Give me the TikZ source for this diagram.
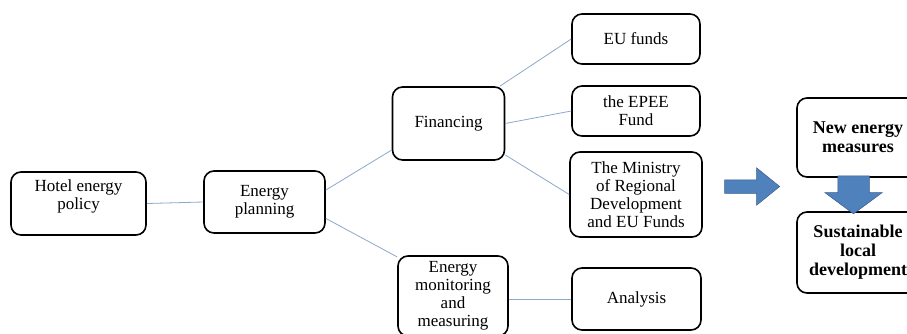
\documentclass[tikz,border=0pt]{standalone}
\usepackage{fontspec}
\setmainfont{Liberation Serif}
\usetikzlibrary{shapes.arrows}
\definecolor{linkblue}{RGB}{140,168,204}
\definecolor{arrowfill}{RGB}{79,129,189}
\definecolor{arrowedge}{RGB}{56,93,138}
\begin{document}
\begin{tikzpicture}[x=1pt,y=-1pt,
    box/.style={draw, line width=1.6pt, rounded corners=10pt, align=center,
      inner sep=0pt, font=\fontsize{17}{18}\selectfont},
    boldbox/.style={box, font=\fontsize{18}{19}\selectfont\bfseries},
    link/.style={linkblue, line width=0.8pt},
    blockarrow/.style={single arrow, fill=arrowfill, draw=arrowedge, line width=0.5pt}]
  \useasboundingbox (0,0) rectangle (907,333);
  % left part of the tree
  \node[box, minimum width=135pt, minimum height=63pt] (hotel) at (78.5,203.5) {Hotel energy\\policy\\[0pt]};
  \node[box, minimum width=121pt, minimum height=62pt] (plan) at (264.5,202) {Energy\\planning};
  \node[box, minimum width=112pt, minimum height=73pt] (fin) at (448.5,123.5) {Financing};
  \node[box, minimum width=110pt, minimum height=80pt] (mon) at (453,296) {Energy\\monitoring\\and\\measuring};
  % sources of money and analysis
  \node[box, minimum width=128pt, minimum height=50pt] (eu) at (636,39) {EU funds};
  \node[box, minimum width=128pt, minimum height=50pt] (epee) at (636,111) {the EPEE\\Fund};
  \node[box, minimum width=132pt, minimum height=85pt] (mrd) at (636,194.5) {The Ministry\\of Regional\\Development\\and EU Funds};
  \node[box, minimum width=129pt, minimum height=62pt] (ana) at (636.5,299) {Analysis};
  % outcome on the right
  \node[boldbox, minimum width=122pt, minimum height=79pt] (newm) at (858,137.5) {New energy\\measures};
  \node[boldbox, minimum width=122pt, minimum height=81pt] (sus) at (858,252.5) {Sustainable\\local\\development};
  % connectors
  \draw[link] (hotel.east) -- (plan.west);
  \draw[link] (plan.11) -- (fin.205);
  \draw[link] (plan.345) -- (mon.145);
  \draw[link] (fin.36) -- (eu.west);
  \draw[link] (fin.east) -- (epee.west);
  \draw[link] (fin.331) -- (mrd.west);
  \draw[link] (mon.east |- ana.west) -- (ana.west);
  % block arrows
  \node[blockarrow, minimum height=55pt, inner sep=6.5pt, single arrow head extend=12pt,
    single arrow tip angle=78] (go) at (748,186.5) {};
  \node[blockarrow, shape border rotate=270, minimum height=38pt, inner xsep=15.5pt, inner ysep=0pt,
    single arrow head extend=13pt, single arrow tip angle=107] (down) at (853.5,189) {};
\end{tikzpicture}
\end{document}
